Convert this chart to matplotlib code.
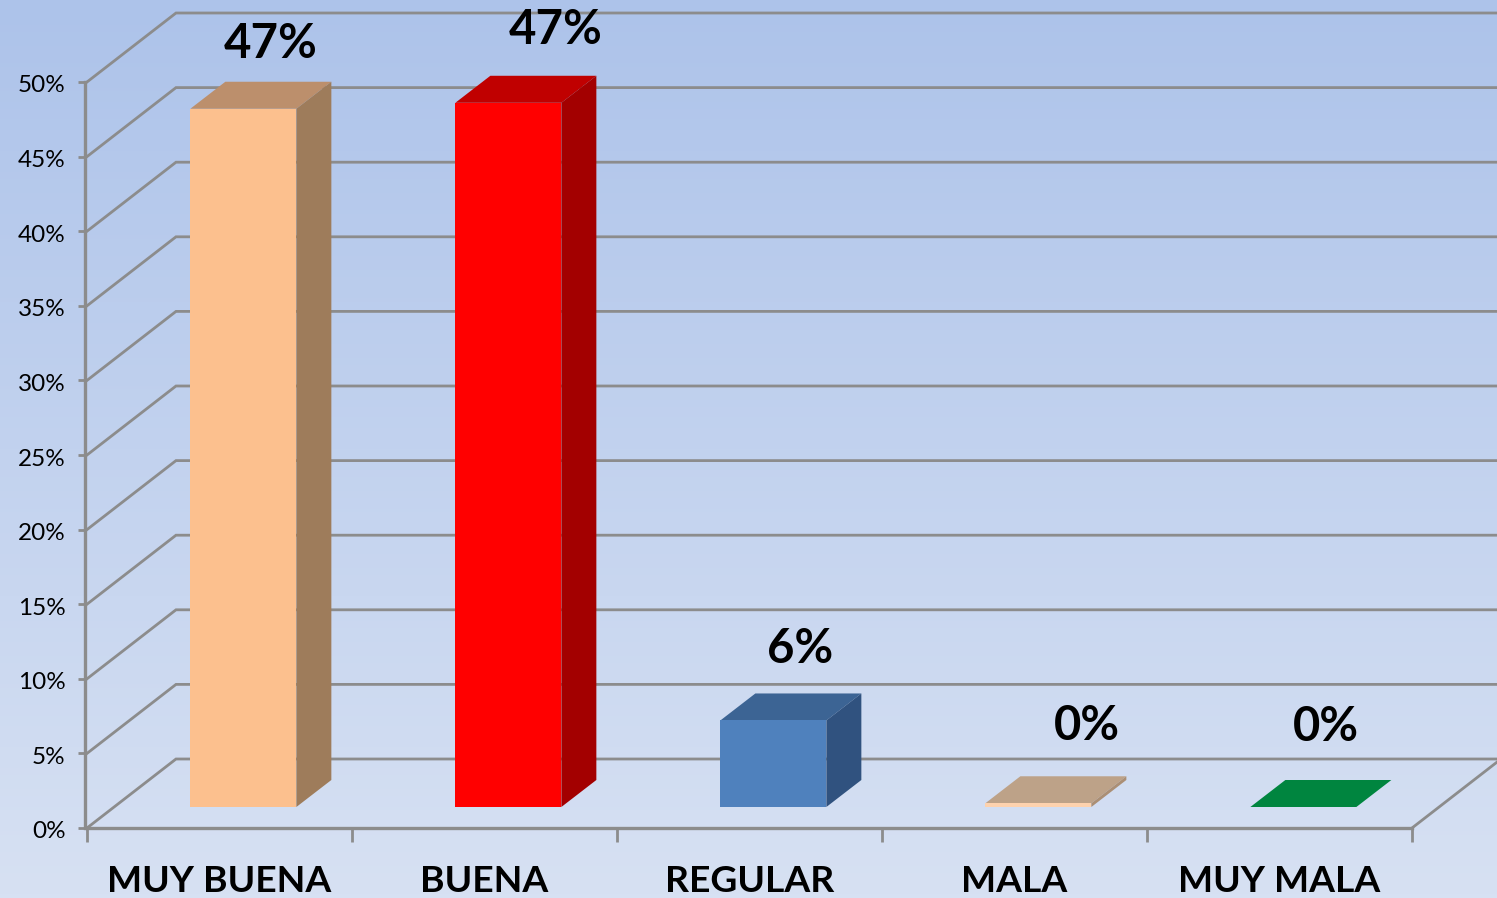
#!/usr/bin/env python3
"""
Pseudo-3D column chart: MUY BUENA ... MUY MALA
"""

import matplotlib
matplotlib.use('Agg')
import matplotlib.pyplot as plt
import numpy as np
from matplotlib.colors import LinearSegmentedColormap
from matplotlib.patches import Polygon
from matplotlib.transforms import ScaledTranslation

# Chart data
categories = ['MUY BUENA', 'BUENA', 'REGULAR', 'MALA', 'MUY MALA']
values = [46.8, 47.2, 5.8, 0.25, 0.0]
value_labels = ['47%', '47%', '6%', '0%', '0%']
y_ticks = [0, 5, 10, 15, 20, 25, 30, 35, 40, 45, 50]

# Colours per bar
front_colors = ['#fcc08e', '#ff0000', '#4f81bd', '#fdd2ae', '#00853f']
top_colors = ['#bc8f6c', '#c00000', '#3c6494', '#bda288', '#00853f']
side_colors = ['#9e7c5b', '#a30000', '#30527f', '#ab8f75', '#00853f']
grid_color = '#8c8c8c'

# Layout in pixels
W, H = 1497, 898
PLOT_LEFT, PLOT_RIGHT = 87, 1412
PLOT_BOTTOM, PLOT_TOP = 828, 82
px_x = (PLOT_RIGHT - PLOT_LEFT) / len(categories)
px_y = (PLOT_BOTTOM - PLOT_TOP) / max(y_ticks)

# 3D offsets, converted to data units
wall_dx, wall_dy = 89 / px_x, 69 / px_y
bar_dx, bar_dy = 35 / px_x, 27 / px_y
bar_floor = 21 / px_y
bar_shift = 0.59
bar_width = 106 / px_x

# Label offsets from the bar top centre, in pixels
label_dx = [27, 47, 27, 49, 23]
label_dy = [65, 73, 71, 77, 80]

plt.rcParams['font.family'] = ['Lato', 'DejaVu Sans']

fig = plt.figure(figsize=(W / 100, H / 100), dpi=100)

# Background gradient
ax_bg = fig.add_axes([0, 0, 1, 1], zorder=0)
cmap = LinearSegmentedColormap.from_list('bg', ['#adc3ea', '#d7e1f3'])
ax_bg.imshow(np.linspace(0, 1, 256).reshape(-1, 1), aspect='auto', cmap=cmap)
ax_bg.axis('off')

ax = fig.add_axes([PLOT_LEFT / W, 1 - PLOT_BOTTOM / H,
                   (PLOT_RIGHT - PLOT_LEFT) / W, (PLOT_BOTTOM - PLOT_TOP) / H],
                  zorder=1)
ax.patch.set_visible(False)
ax.set_xlim(0, len(categories))
ax.set_ylim(0, max(y_ticks))

# Walls: diagonal on the side wall + horizontal on the back wall
for y in y_ticks:
    ax.plot([0, wall_dx, len(categories) + wall_dx], [y, y + wall_dy, y + wall_dy],
            color=grid_color, lw=2.0, clip_on=False, zorder=1,
            solid_joinstyle='miter')
ax.plot([len(categories), len(categories) + wall_dx], [0, wall_dy],
        color=grid_color, lw=2.0, clip_on=False, zorder=1)

# Bars
x_pos = np.arange(len(categories)) + bar_shift
ax.bar(x_pos, values, bar_width, bottom=bar_floor, color=front_colors, zorder=4)

for i, (x, v) in enumerate(zip(x_pos, values)):
    left, right = x - bar_width / 2, x + bar_width / 2
    low, high = bar_floor, bar_floor + v
    ax.add_patch(Polygon([(left, high), (right, high),
                          (right + bar_dx, high + bar_dy), (left + bar_dx, high + bar_dy)],
                         closed=True, facecolor=top_colors[i], edgecolor='none',
                         clip_on=False, zorder=3))
    ax.add_patch(Polygon([(right, low), (right + bar_dx, low + bar_dy),
                          (right + bar_dx, high + bar_dy), (right, high)],
                         closed=True, facecolor=side_colors[i], edgecolor='none',
                         clip_on=False, zorder=3))
    ax.annotate(value_labels[i], (x, high), xytext=(label_dx[i], label_dy[i]),
                textcoords='offset pixels', ha='center', va='center',
                fontsize=34, fontweight='bold', color='black',
                annotation_clip=False, zorder=6)

# Axes
for name in ['top', 'right']:
    ax.spines[name].set_visible(False)
for name in ['left', 'bottom']:
    ax.spines[name].set_color(grid_color)
    ax.spines[name].set_linewidth(2.4)
    ax.spines[name].set_zorder(2)
ax.spines['left'].set_position(('outward', 1.5))

ax.set_yticks(y_ticks, [f'{t}%' for t in y_ticks])
ax.tick_params(axis='y', length=5, width=2, color=grid_color, pad=9,
               labelsize=17.5, labelcolor='black')
shift_down = ScaledTranslation(0, -2 / 100, fig.dpi_scale_trans)
for lab in ax.get_yticklabels():
    lab.set_transform(lab.get_transform() + shift_down)

ax.set_xticks(np.arange(len(categories) + 1), [''] * (len(categories) + 1))
ax.tick_params(axis='x', which='major', length=10, width=2, color=grid_color)
ax.set_xticks(np.arange(len(categories)) + 0.5, categories, minor=True)
ax.tick_params(axis='x', which='minor', length=0, pad=27, labelsize=26.8)
for lab in ax.get_xticklabels(minor=True):
    lab.set_fontweight('bold')

plt.savefig('out.png', dpi=100, facecolor='white')
plt.close()
